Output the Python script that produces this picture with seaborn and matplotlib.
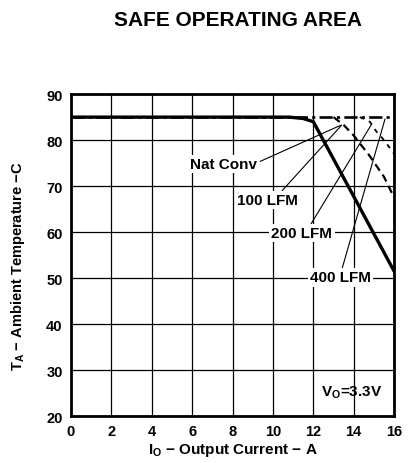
import numpy as np
import matplotlib
matplotlib.use('Agg')
import matplotlib.pyplot as plt
import seaborn as sns

# derating curves (output current A, ambient temperature C)
nat_conv_x = [0, 10.8, 11.5, 12.0, 16]
nat_conv_y = [85, 85, 84.7, 84.0, 51.5]

lfm100_x = [13.0, 13.5, 14.0, 14.8, 15.5, 16]
lfm100_y = [85, 83.3, 81.0, 76.5, 72.0, 67.5]

lfm200_x = [14.3, 14.8, 15.1, 15.5, 16]
lfm200_y = [85, 84.0, 82.0, 80.0, 77.0]

lfm400_x = [0, 16]
lfm400_y = [85, 85]

x_ticks = [0, 2, 4, 6, 8, 10, 12, 14, 16]
y_ticks = [20, 30, 40, 50, 60, 70, 80, 90]

sns.set_style('white')
plt.rcParams['font.family'] = ['Liberation Sans', 'DejaVu Sans']
plt.rcParams['font.weight'] = 'bold'
plt.rcParams['axes.labelweight'] = 'bold'
plt.rcParams['text.color'] = 'black'
plt.rcParams['axes.labelcolor'] = 'black'
plt.rcParams['xtick.color'] = 'black'
plt.rcParams['ytick.color'] = 'black'
plt.rcParams['mathtext.fontset'] = 'custom'
plt.rcParams['mathtext.bf'] = 'Liberation Sans:bold'
plt.rcParams['mathtext.rm'] = 'Liberation Sans:bold'
plt.rcParams['mathtext.default'] = 'bf'

fig = plt.figure(figsize=(4.08, 4.64), dpi=100)
ax = fig.add_axes([0.174, 0.101, 0.792, 0.694])

sns.lineplot(x=lfm400_x, y=lfm400_y, ax=ax, color='black', lw=1.9,
             linestyle=(0, (5, 1.6, 1.2, 1.6)), zorder=3)
sns.lineplot(x=lfm200_x, y=lfm200_y, ax=ax, color='black', lw=1.3,
             linestyle=(0, (2.5, 3)), zorder=3)
sns.lineplot(x=lfm100_x, y=lfm100_y, ax=ax, color='black', lw=1.6,
             linestyle=(0, (3.5, 2.2)), zorder=3)
sns.lineplot(x=nat_conv_x, y=nat_conv_y, ax=ax, color='black', lw=2.4, zorder=4)

ax.set_xlim(0, 16)
ax.set_ylim(20, 90)
ax.set_xticks(x_ticks)
ax.set_yticks(y_ticks)
ax.grid(True, color='black', lw=0.9)
ax.set_axisbelow(True)
ax.tick_params(length=0, pad=6, labelsize=10.5)
for s in ax.spines.values():
    s.set_visible(True)
    s.set_color('black')
    s.set_linewidth(2)

ax.set_xlabel(r'I$_{O}$ − Output Current − A', fontsize=11, labelpad=2)
ax.set_ylabel(r'T$_{A}$ − Ambient Temperature −C', fontsize=10.5)
ax.yaxis.set_label_coords(-0.135, 0.47)

box = dict(boxstyle='square,pad=0.15', fc='white', ec='none')
arrow = dict(arrowstyle='-', lw=0.8, color='black', shrinkA=0, shrinkB=0)

ax.annotate('Nat Conv', xy=(13.39, 83.3), xytext=(7.57, 74.8), ha='center', va='center',
            fontsize=11, bbox=box, arrowprops=dict(arrow, relpos=(1, 0.6)), zorder=5)
ax.annotate('100 LFM', xy=(13.39, 83.2), xytext=(9.75, 67.0), ha='center', va='center',
            fontsize=11, bbox=box, arrowprops=dict(arrow, relpos=(0.7, 1)), zorder=5)
ax.annotate('200 LFM', xy=(14.89, 83.5), xytext=(11.43, 59.8), ha='center', va='center',
            fontsize=11, bbox=box, arrowprops=dict(arrow, relpos=(0.63, 1)), zorder=5)
ax.annotate('400 LFM', xy=(15.55, 84.6), xytext=(13.34, 50.2), ha='center', va='center',
            fontsize=11, bbox=box, arrowprops=dict(arrow, relpos=(0.52, 1)), zorder=5)
ax.text(13.9, 25.2, r'V$_{O}$=3.3V', ha='center', va='center', fontsize=11, zorder=5)

fig.text(0.583, 1 - 21 / 464, 'SAFE OPERATING AREA', ha='center', va='center',
         fontsize=15, fontweight='bold')

fig.savefig('out.png', dpi=100)
